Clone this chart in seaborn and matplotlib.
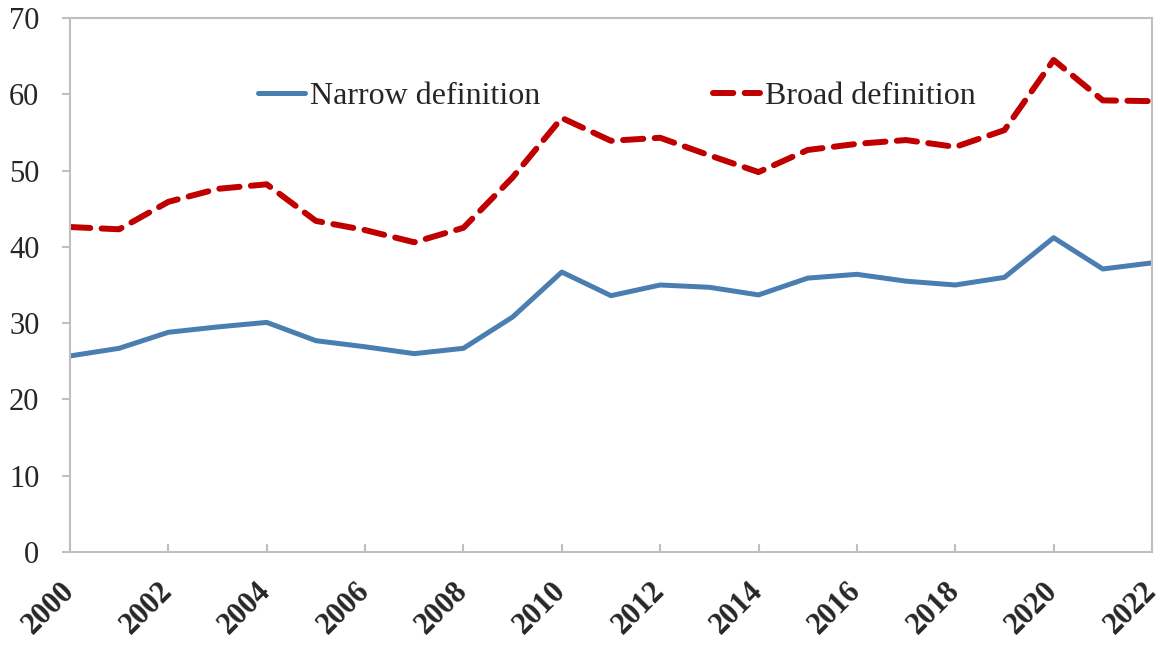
import pandas as pd
import matplotlib.pyplot as plt
import seaborn as sns

# values
years = list(range(2000, 2023))
narrow = [25.7, 26.7, 28.8, 29.5, 30.1, 27.7, 26.9, 26.0, 26.7, 30.8, 36.7, 33.6,
          35.0, 34.7, 33.7, 35.9, 36.4, 35.5, 35.0, 36.0, 41.2, 37.1, 37.9]
broad = [42.6, 42.3, 45.9, 47.6, 48.2, 43.4, 42.2, 40.6, 42.5, 49.1, 56.9, 53.9,
         54.3, 52.0, 49.8, 52.7, 53.5, 54.0, 53.1, 55.3, 64.5, 59.2, 59.1]
year_ticks = list(range(2000, 2023, 2))
y_ticks = list(range(0, 71, 10))

df = pd.DataFrame({"year": years, "Narrow definition": narrow, "Broad definition": broad})

sns.set_style("white")
plt.rcParams["font.family"] = ["Liberation Serif", "DejaVu Serif"]

fig = plt.figure(figsize=(11.7, 6.45), dpi=100)
ax = fig.add_axes([0.0598, 0.1442, 0.9248, 0.8279])

sns.lineplot(data=df, x="year", y="Narrow definition", ax=ax, color="#4A7EB0",
             linewidth=3.6, label="Narrow definition")
sns.lineplot(data=df, x="year", y="Broad definition", ax=ax, color="#C00000",
             linewidth=4.3, label="Broad definition")
ax.lines[1].set_dashes((3.4, 1.9))
ax.lines[1].set_dash_capstyle("round")

ax.set_xlim(2000, 2022)
ax.set_ylim(0, 70)
ax.set_xticks(year_ticks)
ax.set_yticks(y_ticks)
ax.set_xlabel("")
ax.set_ylabel("")

for s in ax.spines.values():
    s.set_color("#BFBFBF")
    s.set_linewidth(1.5)

ax.tick_params(axis="y", direction="out", length=6, width=1.5, color="#BFBFBF",
               labelsize=22, pad=16, left=True)
ax.tick_params(axis="x", direction="in", length=6, width=1.5, color="#BFBFBF",
               labelsize=22, pad=25, bottom=True)
for lab in ax.get_xticklabels():
    lab.set_rotation(45)
    lab.set_ha("right")
    lab.set_va("center")
    lab.set_rotation_mode("anchor")
    lab.set_fontweight("bold")

leg = ax.legend(ncol=2, loc="center left", bbox_to_anchor=(0.174, 0.853), frameon=False,
                fontsize=23, handlelength=1.47, handletextpad=0.16, columnspacing=5.4,
                borderpad=0, borderaxespad=0)
leg.get_lines()[1].set_dash_capstyle("round")

fig.savefig("out.png", dpi=100)
